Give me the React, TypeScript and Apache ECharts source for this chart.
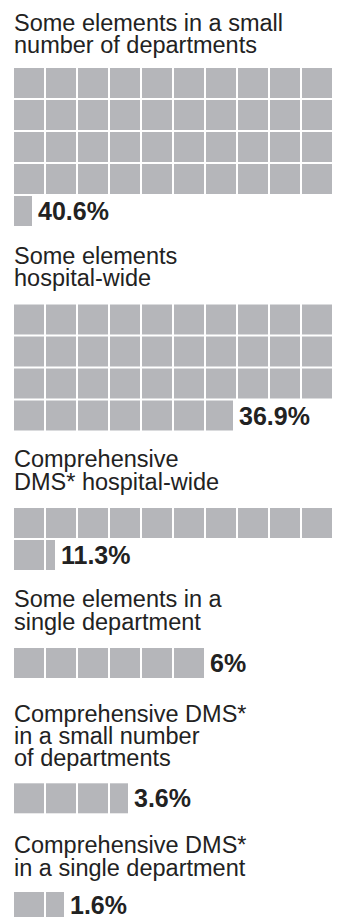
import React, { useEffect, useRef } from "react";
import * as echarts from "echarts";

// ---- data ----
const categories: string[] = [
  "Some elements in a small\nnumber of departments",
  "Some elements\nhospital-wide",
  "Comprehensive\nDMS* hospital-wide",
  "Some elements in a\nsingle department",
  "Comprehensive DMS*\nin a small number\nof departments",
  "Comprehensive DMS*\nin a single department",
];
const values: number[] = [40.6, 36.9, 11.3, 6, 3.6, 1.6];
const cellsPerRow = 10;

// ---- layout ----
const titleBaselines = [30.7, 264, 467.3, 607.3, 721.7, 853.3];
const gridTops = [68, 304.5, 508, 648, 783.3, 892];
const PITCH = 32;
const GAP = 2;
const FONT = "'Liberation Sans', Arial, Helvetica, sans-serif";
const CELL_COLOR = "#b5b6ba";
const TEXT_COLOR = "#222222";

function buildCells(v: number) {
  const full = Math.floor(v + 1e-9);
  const frac = Math.round((v - full) * 10) / 10;
  const cells: number[][] = [];
  for (let k = 0; k < full; k++) {
    cells.push([k % cellsPerRow, Math.floor(k / cellsPerRow), 1, v, 0]);
  }
  if (frac > 0) {
    cells.push([full % cellsPerRow, Math.floor(full / cellsPerRow), frac, v, 0]);
  }
  cells[cells.length - 1][4] = 1;
  return cells;
}

export default function App() {
  const ref = useRef<HTMLDivElement>(null);
  useEffect(() => {
    if (!ref.current) return;
    const chart = echarts.init(ref.current, undefined, { renderer: "svg" });
    const cellSets = values.map(buildCells);
    const rowsOf = (cells: number[][]) => cells[cells.length - 1][1] + 1;

    const option: any = {
      animation: false,
      backgroundColor: "#ffffff",
      title: categories.map((c, i) => ({
        text: c,
        left: 14,
        top: titleBaselines[i] - 19,
        padding: 0,
        textStyle: {
          fontSize: 23.5,
          fontWeight: "normal",
          color: TEXT_COLOR,
          lineHeight: 22.3,
          fontFamily: FONT,
        },
      })),
      grid: cellSets.map((cells, i) => ({
        left: 14,
        top: gridTops[i],
        width: cellsPerRow * PITCH,
        height: rowsOf(cells) * PITCH,
        containLabel: false,
      })),
      xAxis: cellSets.map((_, i) => ({
        gridIndex: i,
        type: "value",
        min: 0,
        max: cellsPerRow,
        show: false,
      })),
      yAxis: cellSets.map((cells, i) => ({
        gridIndex: i,
        type: "value",
        min: 0,
        max: rowsOf(cells),
        inverse: true,
        show: false,
      })),
      series: cellSets.map((cells, i) => ({
        type: "custom",
        xAxisIndex: i,
        yAxisIndex: i,
        clip: false,
        data: cells,
        renderItem: (params: any, api: any) => {
          const col = api.value(0);
          const row = api.value(1);
          const frac = api.value(2);
          const val = api.value(3);
          const isLast = api.value(4);
          const p = api.coord([col, row]);
          const size = api.size([1, 1]);
          const w = frac * (size[0] - GAP);
          const h = size[1] - GAP;
          const children: any[] = [
            {
              type: "rect",
              shape: { x: p[0], y: p[1], width: w, height: h },
              style: { fill: CELL_COLOR },
            },
          ];
          if (isLast) {
            children.push({
              type: "text",
              x: p[0] + w + 6,
              y: p[1] + h / 2,
              style: {
                text: `${val}%`,
                fill: TEXT_COLOR,
                font: `bold 25px ${FONT}`,
                align: "left",
                verticalAlign: "middle",
              },
            });
          }
          return { type: "group", children };
        },
      })),
    };
    chart.setOption(option);
    return () => chart.dispose();
  }, []);

  return (
    <div
      ref={ref}
      style={{
        position: "fixed",
        left: 0,
        top: 0,
        width: 341,
        height: 919,
        background: "#ffffff",
      }}
    />
  );
}
